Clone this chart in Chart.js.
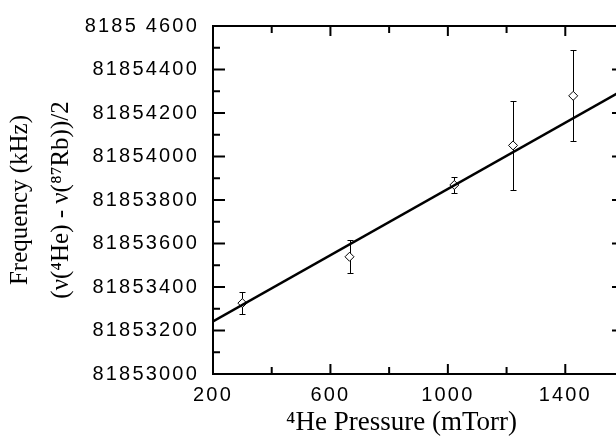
<!DOCTYPE html>
<html>
<head>
<meta charset="utf-8">
<script src="https://cdn.jsdelivr.net/npm/chart.js@4"></script>
<style>
  html, body { margin: 0; padding: 0; background: #fff; overflow: hidden; }
  #wrap { position: absolute; left: 0; top: 0; width: 640px; height: 439px; }
</style>
</head>
<body>
<div id="wrap"><canvas id="chart" width="640" height="439"></canvas></div>
<script>
/* ---------------- DATA ---------------- */
const pressure = [300, 665, 1022, 1222, 1427];                          // mTorr
const freq     = [81853326, 81853539, 81853869, 81854051, 81854279];    // kHz
const freqErr  = [51, 76, 38, 206, 210];                                // kHz
const fitX = [200, 1600];
const fitY = [81853242, 81854308];

const xTicks = [200, 600, 1000, 1400];
const yTicks = [81853000, 81853200, 81853400, 81853600, 81853800,
                81854000, 81854200, 81854400, 81854600];
const yTickLabels = ["81853000", "81853200", "81853400", "81853600", "81853800",
                     "81854000", "81854200", "81854400", "8185 4600"];
/* -------------------------------------- */

const sansFont  = '"Liberation Sans", Arial, sans-serif';
const serifFont = '"Liberation Serif", "DejaVu Serif", serif';

/* error bars, drawn under the diamonds */
const errorBars = {
    id: 'errorBars',
    beforeDatasetsDraw(chart) {
        const { ctx, scales: { x, y } } = chart;
        ctx.save();
        ctx.strokeStyle = '#000';
        ctx.lineWidth = 1;
        pressure.forEach((p, i) => {
            const px = Math.round(x.getPixelForValue(p)) + 0.5;
            const top = Math.round(y.getPixelForValue(freq[i] + freqErr[i])) + 0.5;
            const bot = Math.round(y.getPixelForValue(freq[i] - freqErr[i])) + 0.5;
            ctx.beginPath();
            ctx.moveTo(px, top); ctx.lineTo(px, bot);
            ctx.moveTo(px - 3, top); ctx.lineTo(px + 3, top);
            ctx.moveTo(px - 3, bot); ctx.lineTo(px + 3, bot);
            ctx.stroke();
        });
        ctx.restore();
    }
};

/* wide digits for the tick labels (labels are drawn after datasets, z:1) */
const wideDigits = {
    id: 'wideDigits',
    afterDatasetsDraw(chart) { chart.ctx.letterSpacing = '2.2px'; },
    afterDraw(chart) { chart.ctx.letterSpacing = '0px'; }
};

/* box frame with inward ticks on all four sides */
const frame = {
    id: 'frame',
    afterDraw(chart) {
        const { ctx, chartArea: a, scales: { x, y } } = chart;
        ctx.save();
        ctx.strokeStyle = '#000';
        ctx.lineWidth = 2;
        ctx.strokeRect(a.left, a.top, a.right - a.left, a.bottom - a.top);
        ctx.beginPath();
        for (let v = x.min + 200; v < x.max; v += 200) {
            const px = x.getPixelForValue(v);
            const len = (v - x.min) % 400 === 0 ? 10 : 7;
            ctx.moveTo(px, a.bottom); ctx.lineTo(px, a.bottom - len);
            ctx.moveTo(px, a.top);    ctx.lineTo(px, a.top + len);
        }
        for (let v = y.min + 100; v < y.max; v += 100) {
            const py = y.getPixelForValue(v);
            const len = (v - y.min) % 200 === 0 ? 12 : 7;
            ctx.moveTo(a.left, py);  ctx.lineTo(a.left + len, py);
            ctx.moveTo(a.right, py); ctx.lineTo(a.right - len, py);
        }
        ctx.stroke();
        ctx.restore();
    }
};

/* the x title sits a little left of the plot centre in the reference */
function shiftTitle(scale, dx) {
    if (scale._shifted) return;
    scale._shifted = true;
    const orig = scale.drawTitle;
    scale.drawTitle = function () {
        this.ctx.save();
        this.ctx.translate(dx, 0);
        orig.call(this);
        this.ctx.restore();
    };
}

new Chart(document.getElementById('chart'), {
    type: 'scatter',
    data: {
        datasets: [
            {
                label: 'data',
                data: pressure.map((p, i) => ({ x: p, y: freq[i] })),
                pointStyle: 'rectRot',
                pointRadius: 4.5,
                backgroundColor: '#fff',
                borderColor: '#000',
                borderWidth: 1,
                order: 1
            },
            {
                label: 'fit',
                data: fitX.map((p, i) => ({ x: p, y: fitY[i] })),
                showLine: true,
                pointRadius: 0,
                borderColor: '#000',
                borderWidth: 2.5,
                order: 0
            }
        ]
    },
    options: {
        responsive: false,
        animation: false,
        layout: { padding: { left: 0, right: 16, top: 24, bottom: 0 } },
        plugins: { legend: { display: false }, tooltip: { enabled: false } },
        scales: {
            x: {
                type: 'linear', min: 200, max: 1600,
                afterBuildTicks: s => { s.ticks = xTicks.map(v => ({ value: v })); },
                afterFit: s => { s.height = 65; shiftTitle(s, -17); },
                grid: { display: false, drawTicks: false },
                border: { display: false },
                ticks: {
                    z: 1, padding: 9, color: '#000', autoSkip: false, maxRotation: 0,
                    font: { family: sansFont, size: 20 },
                    callback: v => String(v)
                },
                title: {
                    display: true, text: '⁴He Pressure (mTorr)', color: '#000',
                    font: { family: serifFont, size: 27 },
                    padding: { top: 0, bottom: 0 }
                }
            },
            y: {
                type: 'linear', min: 81853000, max: 81854600,
                afterBuildTicks: s => { s.ticks = yTicks.map(v => ({ value: v })); },
                afterFit: s => { s.width = 213; },
                grid: { display: false, drawTicks: false },
                border: { display: false },
                ticks: {
                    z: 1, padding: 14, color: '#000', autoSkip: false,
                    font: { family: sansFont, size: 20 },
                    callback: (v, i) => yTickLabels[i]
                },
                title: {
                    display: true,
                    text: ['Frequency (kHz)', '(ν(⁴He) - ν(⁸⁷Rb))/2'],
                    color: '#000',
                    font: { family: serifFont, size: 25, lineHeight: '41px' },
                    padding: { top: 0, bottom: 0 }
                }
            }
        }
    },
    plugins: [errorBars, wideDigits, frame]
});
</script>
</body>
</html>
